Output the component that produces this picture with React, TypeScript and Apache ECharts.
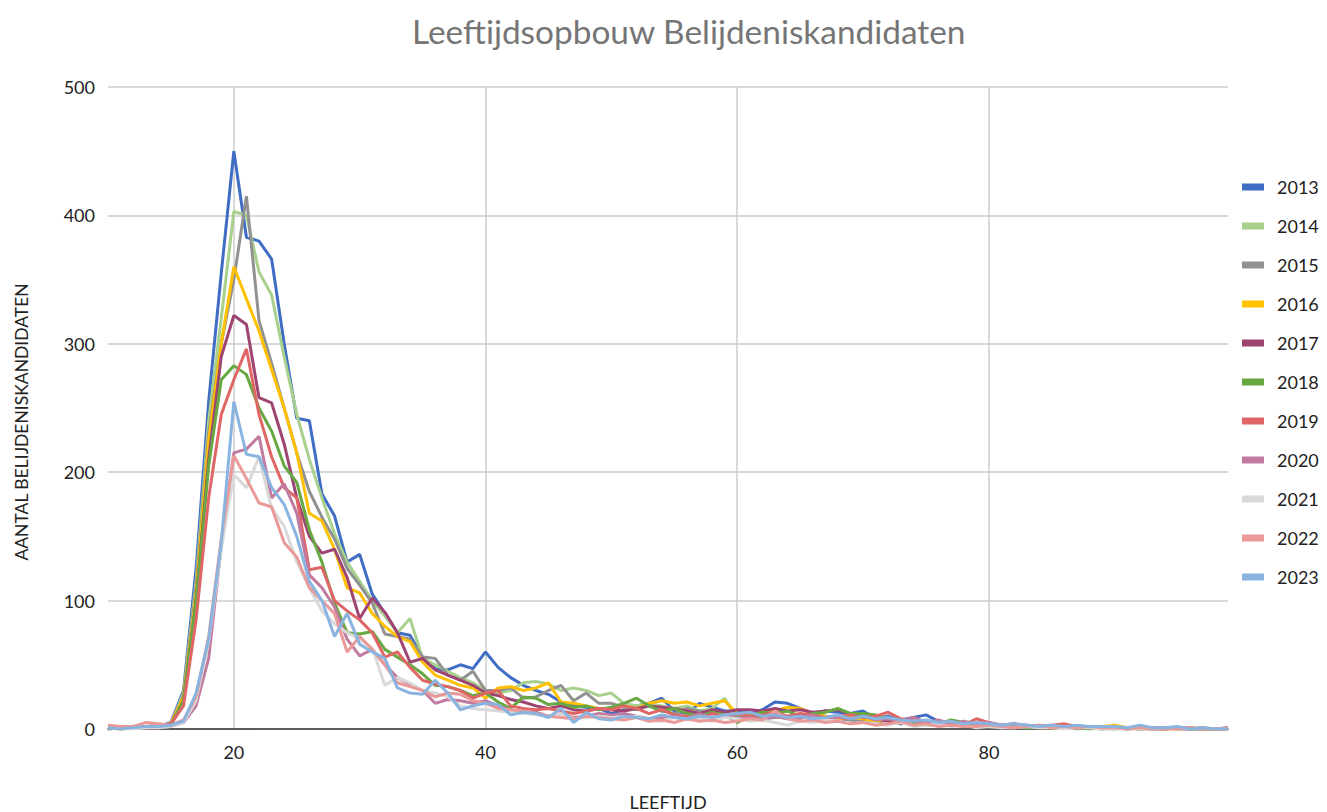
import React, { useEffect, useRef } from "react";
import * as echarts from "echarts";

const ages: number[] = Array.from({ length: 90 }, (_, i) => 10 + i);

const years = ["2013", "2014", "2015", "2016", "2017", "2018", "2019", "2020", "2021", "2022", "2023"];
const colors = ["#3f6cc4", "#a9d18e", "#919191", "#ffc000", "#9e4473", "#67a843", "#e06666", "#c27ba0", "#d9d9d9", "#ea9999", "#8ab4e0"];

const s2013 = [
  1, 1, 2, 1, 2, 5, 30, 125, 255, 355,
  450, 383, 380, 366, 300, 242, 240, 183, 166, 130,
  136, 105, 90, 75, 73, 56, 47, 46, 50, 47,
  60, 48, 40, 34, 30, 27, 21, 18, 17, 16,
  12, 15, 18, 20, 24, 14, 12, 20, 17, 14,
  14, 12, 15, 21, 20, 16, 12, 14, 13, 12,
  14, 8, 10, 7, 9, 11, 6, 4, 3, 3,
  2, 3, 2, 2, 1, 2, 1, 1, 1, 0,
  1, 0, 1, 0, 0, 1, 0, 0, 0, 0,
];
const s2014 = [
  1, 1, 1, 2, 2, 4, 28, 115, 240, 320,
  403, 400, 356, 338, 290, 245, 210, 180, 152, 130,
  115, 100, 88, 75, 86, 55, 50, 45, 40, 36,
  30, 28, 30, 36, 37, 35, 30, 32, 30, 26,
  28, 20, 18, 20, 18, 16, 18, 14, 16, 24,
  8, 10, 12, 10, 8, 9, 11, 8, 10, 7,
  9, 6, 8, 5, 6, 4, 5, 3, 4, 2,
  3, 2, 2, 1, 2, 1, 1, 2, 1, 0,
  1, 0, 0, 1, 0, 0, 0, 1, 0, 0,
];
const s2015 = [
  0, 1, 1, 1, 2, 4, 26, 110, 230, 300,
  350, 415, 318, 285, 250, 215, 185, 165, 148, 125,
  112, 98, 74, 72, 70, 56, 55, 42, 38, 45,
  30, 30, 32, 24, 25, 30, 34, 22, 28, 20,
  20, 17, 15, 18, 14, 12, 16, 14, 12, 10,
  10, 12, 8, 9, 10, 8, 12, 10, 8, 7,
  6, 5, 7, 4, 5, 6, 3, 4, 2, 3,
  2, 1, 2, 1, 1, 2, 1, 0, 1, 0,
  0, 1, 0, 0, 1, 0, 0, 0, 0, 0,
];
const s2016 = [
  1, 0, 1, 1, 2, 4, 25, 105, 225, 300,
  360, 335, 310, 280, 250, 215, 168, 162, 140, 110,
  106, 90, 80, 72, 68, 52, 42, 38, 34, 32,
  24, 32, 33, 30, 32, 36, 21, 20, 18, 16,
  15, 18, 16, 20, 22, 20, 21, 18, 20, 22,
  12, 10, 12, 14, 17, 16, 12, 10, 8, 9,
  8, 6, 7, 5, 4, 5, 3, 4, 3, 2,
  2, 2, 1, 2, 1, 1, 2, 1, 1, 2,
  3, 1, 0, 1, 0, 0, 1, 0, 0, 0,
];
const s2017 = [
  0, 1, 1, 1, 1, 3, 22, 100, 210, 290,
  322, 315, 258, 254, 222, 180, 150, 137, 140, 118,
  86, 102, 91, 75, 52, 55, 46, 42, 38, 34,
  28, 26, 23, 21, 18, 16, 18, 15, 14, 16,
  15, 14, 16, 18, 17, 16, 14, 12, 15, 13,
  15, 15, 14, 16, 14, 15, 13, 14, 15, 12,
  10, 8, 6, 4, 9, 5, 4, 6, 3, 2,
  3, 2, 2, 3, 1, 2, 1, 1, 2, 1,
  1, 0, 1, 0, 1, 0, 0, 0, 0, 1,
];
const s2018 = [
  1, 0, 1, 1, 2, 3, 22, 100, 205, 272,
  283, 276, 250, 232, 205, 192, 155, 130, 98, 75,
  74, 76, 62, 56, 50, 43, 34, 33, 30, 26,
  28, 21, 16, 25, 24, 19, 20, 17, 18, 15,
  17, 20, 24, 18, 14, 16, 12, 10, 13, 11,
  5, 10, 13, 12, 14, 10, 12, 13, 16, 12,
  12, 11, 8, 6, 5, 3, 4, 7, 5, 4,
  3, 2, 2, 1, 2, 1, 1, 1, 0, 1,
  0, 1, 0, 0, 0, 1, 0, 0, 0, 0,
];
const s2019 = [
  2, 1, 1, 2, 3, 4, 18, 85, 180, 245,
  272, 296, 245, 212, 188, 180, 124, 126, 100, 92,
  85, 75, 56, 60, 48, 38, 35, 33, 30, 24,
  28, 30, 18, 16, 15, 16, 14, 12, 14, 16,
  15, 18, 16, 12, 15, 11, 10, 8, 12, 10,
  12, 10, 11, 13, 10, 12, 11, 9, 10, 11,
  9, 10, 13, 8, 6, 5, 4, 5, 3, 8,
  5, 3, 4, 3, 2, 3, 4, 2, 1, 2,
  1, 1, 2, 1, 0, 1, 1, 0, 0, 0,
];
const s2020 = [
  1, 0, 1, 1, 1, 2, 5, 18, 55, 142,
  215, 218, 228, 180, 191, 168, 120, 110, 95, 70,
  57, 62, 50, 40, 35, 30, 20, 23, 22, 20,
  22, 18, 15, 12, 13, 10, 12, 9, 10, 12,
  11, 12, 10, 8, 9, 10, 8, 12, 9, 10,
  8, 9, 7, 10, 8, 9, 11, 7, 9, 8,
  10, 7, 8, 6, 9, 5, 7, 4, 6, 4,
  5, 3, 4, 2, 3, 2, 2, 1, 2, 1,
  1, 1, 0, 1, 0, 1, 0, 1, 0, 0,
];
const s2021 = [
  1, 1, 0, 1, 1, 2, 5, 22, 68, 140,
  198, 188, 212, 172, 158, 130, 110, 92, 82, 75,
  70, 63, 34, 40, 36, 30, 28, 25, 18, 16,
  15, 14, 13, 12, 11, 10, 12, 8, 9, 10,
  9, 8, 10, 7, 6, 9, 7, 8, 6, 9,
  8, 6, 7, 5, 3, 6, 5, 7, 6, 4,
  5, 4, 3, 5, 2, 3, 4, 2, 3, 1,
  2, 1, 1, 2, 1, 1, 0, 1, 1, 0,
  0, 1, 0, 0, 1, 0, 0, 0, 0, 0,
];
const s2022 = [
  3, 2, 2, 5, 4, 3, 7, 25, 72, 148,
  213, 195, 176, 173, 145, 134, 110, 100, 90, 60,
  72, 62, 50, 36, 33, 30, 25, 28, 27, 22,
  20, 16, 15, 14, 12, 10, 9, 8, 10, 9,
  8, 7, 9, 6, 7, 5, 8, 6, 7, 5,
  6, 8, 7, 14, 8, 6, 7, 5, 6, 4,
  5, 3, 4, 6, 3, 4, 2, 3, 2, 2,
  3, 2, 1, 2, 3, 1, 2, 1, 2, 1,
  1, 0, 1, 0, 0, 0, 1, 0, 0, 0,
];
const s2023 = [
  1, 0, 1, 2, 2, 3, 6, 28, 70, 145,
  255, 214, 212, 188, 175, 150, 115, 100, 72, 90,
  66, 60, 55, 32, 28, 27, 38, 28, 15, 18,
  20, 19, 11, 13, 12, 9, 16, 5, 13, 8,
  7, 10, 9, 8, 11, 9, 8, 10, 9, 11,
  12, 13, 10, 11, 9, 10, 8, 9, 11, 8,
  10, 8, 9, 7, 6, 7, 5, 6, 4, 5,
  4, 3, 4, 3, 2, 3, 2, 3, 2, 2,
  2, 1, 3, 1, 1, 2, 0, 1, 0, 0,
];

const seriesValues = [s2013, s2014, s2015, s2016, s2017, s2018, s2019, s2020, s2021, s2022, s2023];

const xLabels = [20, 40, 60, 80];

export default function App() {
  const ref = useRef<HTMLDivElement>(null);
  useEffect(() => {
    if (!ref.current) return;
    const chart = echarts.init(ref.current, null, { renderer: "svg" });
    const font = "Lato, 'Open Sans', sans-serif";
    chart.setOption({
      animation: false,
      backgroundColor: "#ffffff",
      textStyle: { fontFamily: font },
      title: {
        text: "Leeftijdsopbouw Belijdeniskandidaten",
        left: 407,
        top: 9,
        textStyle: { fontFamily: font, fontSize: 33.4, fontWeight: "normal", color: "#757575" },
      },
      legend: {
        orient: "vertical",
        left: 1237,
        top: 173,
        icon: "rect",
        itemWidth: 22,
        itemHeight: 7,
        itemGap: 21,
        data: years,
        textStyle: { fontFamily: font, fontSize: 18, color: "#222", lineHeight: 18, padding: [0, 0, 0, 8] },
      },
      grid: { left: 108, right: 99, top: 87, bottom: 83, containLabel: false, outerBoundsMode: "none" },
      xAxis: {
        type: "value",
        min: 10,
        max: 99,
        interval: 10,
        name: "LEEFTIJD",
        nameLocation: "middle",
        nameGap: 64,
        nameTextStyle: { fontFamily: font, fontSize: 18, color: "#222" },
        axisLine: { show: true, lineStyle: { color: "#333", width: 1.5 } },
        axisTick: { show: false },
        axisLabel: {
          fontFamily: font,
          fontSize: 18,
          color: "#222",
          margin: 14,
          formatter: (v: number) => (xLabels.indexOf(v) >= 0 ? String(v) : ""),
        },
        splitLine: {
          show: true,
          lineStyle: {
            color: ["transparent", "#cccccc", "transparent", "#cccccc", "transparent", "#cccccc", "transparent", "#cccccc", "transparent", "transparent"],
            width: 1.5,
          },
        },
      },
      yAxis: {
        type: "value",
        min: 0,
        max: 500,
        interval: 100,
        name: "AANTAL BELIJDENISKANDIDATEN",
        nameLocation: "middle",
        nameGap: 78,
        nameTextStyle: { fontFamily: font, fontSize: 17.5, color: "#222", padding: [0, 28, 0, 0] },
        axisLine: { show: false },
        axisTick: { show: false },
        axisLabel: { fontFamily: font, fontSize: 18, color: "#222", margin: 13 },
        splitLine: { show: true, lineStyle: { color: "#cccccc", width: 1.5 } },
      },
      series: years.map((y, i) => ({
        name: y,
        type: "line",
        data: ages.map((a, j) => [a, seriesValues[i][j]]),
        showSymbol: false,
        symbol: "none",
        lineStyle: { width: 3, color: colors[i] },
        itemStyle: { color: colors[i] },
        emphasis: { disabled: true },
      })),
    });
    return () => chart.dispose();
  }, []);
  return <div ref={ref} style={{ position: "fixed", left: 0, top: 0, width: 1327, height: 812 }} />;
}
